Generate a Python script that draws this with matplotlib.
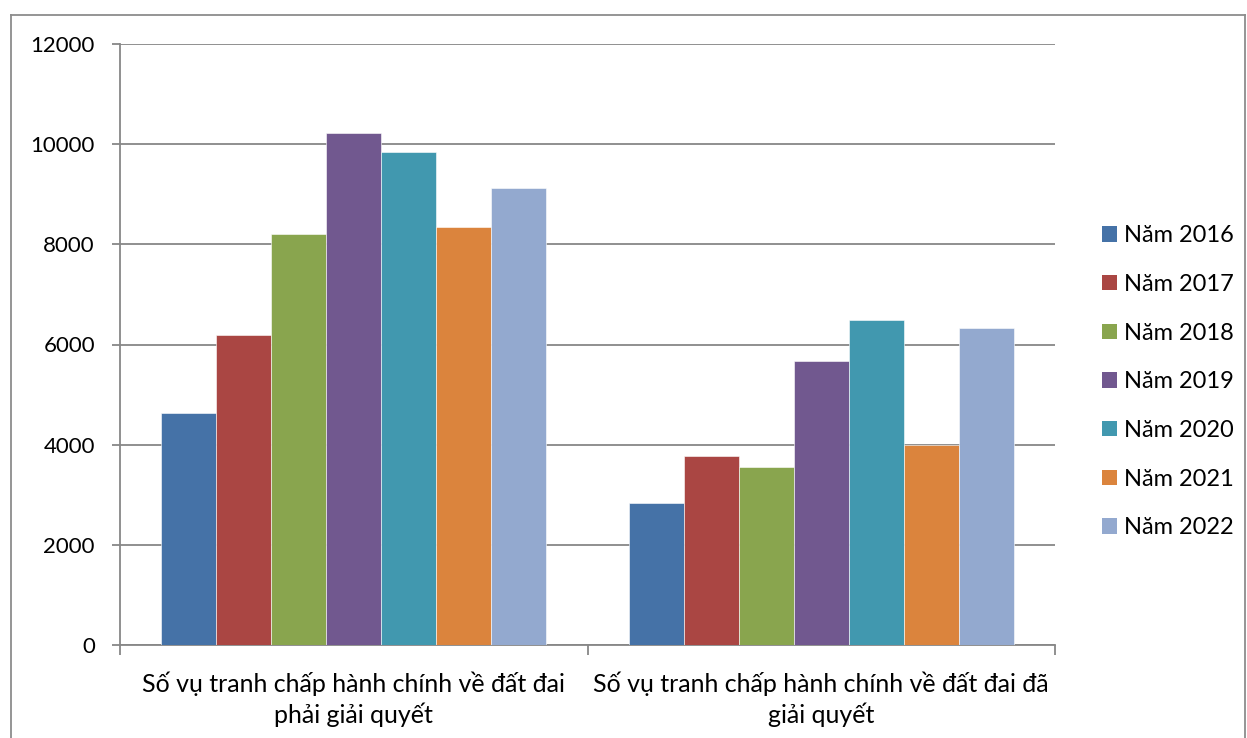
import numpy as np
import matplotlib
matplotlib.use("Agg")
from matplotlib import pyplot as plt
from matplotlib.lines import Line2D
from matplotlib.patches import Patch

# -----------------------------
# DATA
# -----------------------------
categories = [
    "Số vụ tranh chấp hành chính về đất đai\nphải giải quyết",
    "Số vụ tranh chấp hành chính về đất đai đã\ngiải quyết",
]
years = ["Năm 2016", "Năm 2017", "Năm 2018", "Năm 2019", "Năm 2020", "Năm 2021", "Năm 2022"]
phai_giai_quyet = [4630, 6190, 8200, 10220, 9850, 8340, 9130]
da_giai_quyet = [2830, 3770, 3560, 5665, 6485, 3995, 6325]
colors = ["#4572A7", "#AA4643", "#89A54E", "#71588F", "#4198AF", "#DB843D", "#93A9CF"]

# -----------------------------
# FIGURE
# -----------------------------
plt.rcParams["font.family"] = ["Lato", "DejaVu Sans"]
W, H = 1247, 738
fig = plt.figure(figsize=(W / 100, H / 100), dpi=100)
ax = fig.add_axes([120 / W, (H - 645) / H, 935 / W, 601 / H])

grid_col = "#878787"
n = len(years)
width = 1 / 8.5
x = np.arange(len(categories))
for i, (year, col) in enumerate(zip(years, colors)):
    vals = [phai_giai_quyet[i], da_giai_quyet[i]]
    ax.bar(x + (i - (n - 1) / 2) * width, vals, width=width, color=col,
           edgecolor="white", linewidth=0.4, label=year, zorder=3)

ax.set_xlim(-0.5, 1.5)
ax.set_ylim(0, 12000)
ax.set_yticks(np.arange(0, 12001, 2000))
ax.yaxis.grid(True, color=grid_col, linewidth=1.3, zorder=0)
ax.tick_params(axis="y", length=6, width=1.3, color=grid_col, labelsize=16, pad=12,
               labelcolor="black")

ax.set_xticks(x)
ax.set_xticklabels(categories, fontsize=18, linespacing=1.3)
ax.set_xticks([-0.5, 0.5, 1.5], minor=True)
ax.tick_params(axis="x", which="major", length=0, pad=19)
ax.tick_params(axis="x", which="minor", length=7, width=1.3, color=grid_col)

for side in ["top", "right"]:
    ax.spines[side].set_visible(False)
for side in ["left", "bottom"]:
    ax.spines[side].set_color(grid_col)
    ax.spines[side].set_linewidth(1.3)

handles = [Patch(facecolor=c, label=y) for c, y in zip(colors, years)]
fig.legend(handles=handles, loc="upper left", bbox_to_anchor=(1093 / W, 1 - 216 / H),
           frameon=False, fontsize=17, handlelength=0.62, handleheight=0.62,
           handletextpad=0.3, labelspacing=1.17, borderaxespad=0)

# outer chart frame
frame_kw = dict(color="#8c8c8c", linewidth=1.3, transform=None)
fig.add_artist(Line2D([11, 11], [0, H - 15], **frame_kw))
fig.add_artist(Line2D([11, 1245], [H - 15, H - 15], **frame_kw))
fig.add_artist(Line2D([1245, 1245], [0, H - 15], **frame_kw))

fig.savefig("out.png", dpi=100)
